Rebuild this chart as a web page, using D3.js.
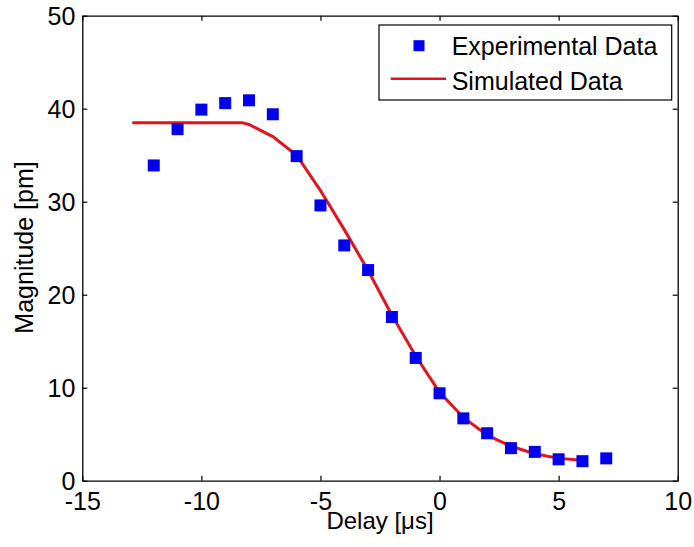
<!DOCTYPE html>
<html><head><meta charset="utf-8">
<script src="https://cdn.jsdelivr.net/npm/d3@7/dist/d3.min.js"></script>
<style>body{margin:0;background:#fff}svg{display:block}text{font-family:"Liberation Sans",Arial,sans-serif;fill:#000}</style>
</head><body>
<script>
// Experimental data
const expDelay = [-12,-11,-10,-9,-8,-7,-6,-5,-4,-3,-2,-1,0,1,2,3,4,5,6,7];
const expMag   = [33.9,37.8,39.9,40.6,40.9,39.4,34.9,29.6,25.3,22.65,17.6,13.2,9.4,6.7,5.1,3.5,3.1,2.3,2.1,2.4];
// Simulated data
const simDelay = [-12.9,-12,-11,-10,-9,-8.3,-8,-7,-6,-5,-4,-3,-2,-1,0,1,2,3,4,5,6];
const simMag   = [38.5,38.5,38.5,38.5,38.5,38.5,38.3,37.0,35.0,31.2,27.0,22.6,17.8,13.4,9.5,6.8,4.9,3.7,2.9,2.4,2.2];
// Ticks
const xTicks = [-15,-10,-5,0,5,10];
const yTicks = [0,10,20,30,40,50];
const legendLabels = ["Experimental Data","Simulated Data"];

const W=694,H=547;
const L=82.3,R=677.7,T=15.7,B=480.7;
const svg=d3.select("body").append("svg").attr("width",W).attr("height",H);
const x=d3.scaleLinear().domain([-15,10]).range([L,R]);
const y=d3.scaleLinear().domain([0,50]).range([B,T]);
const fmt=d=>String(d);

// axes
const ax=svg.append("g").attr("transform",`translate(0,${B})`)
  .call(d3.axisBottom(x).tickValues(xTicks).tickFormat(fmt).tickSizeInner(-5).tickSizeOuter(0).tickPadding(12));
const ay=svg.append("g").attr("transform",`translate(${L},0)`)
  .call(d3.axisLeft(y).tickValues(yTicks).tickFormat(fmt).tickSizeInner(-5).tickSizeOuter(0).tickPadding(7));
const axT=svg.append("g").attr("transform",`translate(0,${T})`)
  .call(d3.axisTop(x).tickValues(xTicks).tickSizeInner(-5).tickSizeOuter(0).tickFormat(""));
const ayR=svg.append("g").attr("transform",`translate(${R},0)`)
  .call(d3.axisRight(y).tickValues(yTicks).tickSizeInner(-5).tickSizeOuter(0).tickFormat(""));
[ax,ay,axT,ayR].forEach(g=>{
  g.select(".domain").attr("stroke","#000").attr("stroke-width",1.3);
  g.selectAll(".tick line").attr("stroke","#000").attr("stroke-width",1.2);
  g.selectAll(".tick text").attr("font-size",25).attr("font-family","Liberation Sans, Arial, sans-serif").attr("fill","#000");
});
ax.selectAll(".tick text").attr("dy","0.71em");
ay.selectAll(".tick text").attr("dy","0.36em");

// axis labels
svg.append("text").attr("x",380).attr("y",529).attr("text-anchor","middle").attr("font-size",24).text("Delay [μs]");
svg.append("text").attr("transform","translate(33,247.5) rotate(-90)").attr("text-anchor","middle").attr("font-size",25).text("Magnitude [pm]");

// simulated line
svg.append("path").datum(simDelay.map((d,i)=>[d,simMag[i]]))
  .attr("fill","none").attr("stroke","#e4141c").attr("stroke-width",3)
  .attr("d",d3.line().x(d=>x(d[0])).y(d=>y(d[1])));

// experimental markers
const s=12;
svg.append("g").selectAll("rect").data(expDelay.map((d,i)=>[d,expMag[i]])).join("rect")
  .attr("x",d=>x(d[0])-s/2).attr("y",d=>y(d[1])-s/2).attr("width",s).attr("height",s)
  .attr("fill","#0000f0");

// legend
const lg=svg.append("g");
lg.append("rect").attr("x",379).attr("y",25).attr("width",292.7).attr("height",75)
  .attr("fill","#fff").attr("stroke","#000").attr("stroke-width",1.2);
lg.append("rect").attr("x",413.5).attr("y",40.2).attr("width",11).attr("height",11).attr("fill","#0000f0");
lg.append("line").attr("x1",390.7).attr("x2",446).attr("y1",78.7).attr("y2",78.7).attr("stroke","#e4141c").attr("stroke-width",2.5);
lg.append("text").attr("x",451.7).attr("y",55).attr("font-size",25).text(legendLabels[0]);
lg.append("text").attr("x",451.7).attr("y",89.5).attr("font-size",25).text(legendLabels[1]);
</script>
</body></html>
